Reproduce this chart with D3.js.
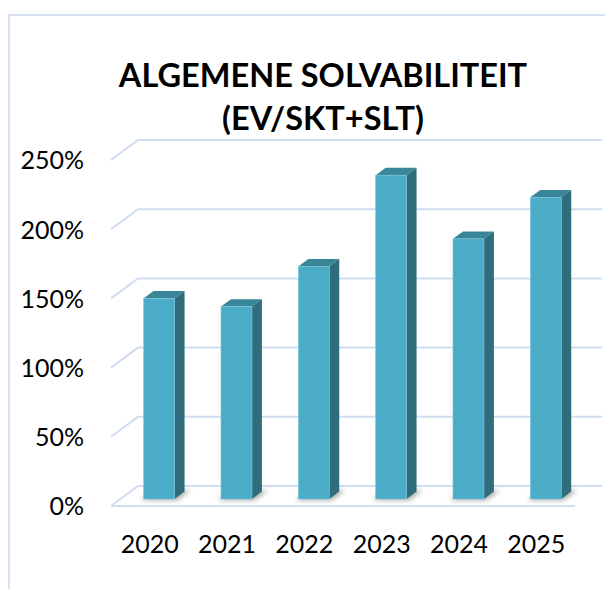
<!DOCTYPE html>
<html>
<head>
<meta charset="utf-8">
<script src="https://cdn.jsdelivr.net/npm/d3@7"></script>
<style>
  body { margin: 0; background: #fff; }
  svg text { font-family: Lato, "Open Sans", sans-serif; fill: #000; }
</style>
</head>
<body>
<div id="chart"></div>
<script>
// Chart data
const years = ["2020", "2021", "2022", "2023", "2024", "2025"];
const solvency = [145, 139, 168, 234, 188, 218];
const yTicks = [0, 50, 100, 150, 200, 250];
const titleLines = ["ALGEMENE SOLVABILITEIT", "(EV/SKT+SLT)"];

const width = 605;
const height = 589;

// Floor front edge and the depth vector of the 3D box
const floorLeft = 111, floorRight = 575, floorY = 506;
const depth = { x: 27, y: -20 };
const barFront = 0.35, barBack = 0.72;

const svg = d3.select("#chart")
    .append("svg")
    .attr("width", width)
    .attr("height", height);

// Soft shadow filter for bar bases
svg.append("defs").append("filter")
    .attr("id", "blur")
    .attr("x", "-50%").attr("y", "-50%")
    .attr("width", "200%").attr("height", "200%")
    .append("feGaussianBlur")
    .attr("stdDeviation", 2.5);

// Outer border (top and left visible)
svg.append("path")
    .attr("d", `M9,${height} L9,15 L${width},15`)
    .attr("fill", "none")
    .attr("stroke", "#d6e2f1")
    .attr("stroke-width", 2);

const x = d3.scaleBand()
    .domain(years)
    .range([floorLeft, floorRight]);

// value scale on the front plane of the box
const y = d3.scaleLinear()
    .domain([0, 250])
    .range([floorY, floorY - 346]);

// Gridlines: left wall diagonal + back wall line
const gridColor = "#d0ddf0";
yTicks.forEach(t => {
    const yf = y(t);
    svg.append("path")
        .attr("d", `M${floorLeft},${yf} L${floorLeft + depth.x},${yf + depth.y} L${floorRight + depth.x},${yf + depth.y}`)
        .attr("fill", "none")
        .attr("stroke", gridColor)
        .attr("stroke-width", 2);
});
// front edge of the floor
svg.append("line")
    .attr("x1", floorLeft).attr("y1", y(0))
    .attr("x2", floorRight).attr("y2", y(0))
    .attr("stroke", gridColor)
    .attr("stroke-width", 2);

// Y axis labels
svg.selectAll(".ylab")
    .data(yTicks)
    .join("text")
    .attr("class", "ylab")
    .attr("x", 84)
    .attr("y", d => y(d) + 3)
    .attr("text-anchor", "end")
    .attr("dominant-baseline", "middle")
    .style("font-size", "25px")
    .text(d => d + "%");

// X axis labels
svg.selectAll(".xlab")
    .data(years)
    .join("text")
    .attr("class", "xlab")
    .attr("x", d => x(d) + x.bandwidth() / 2)
    .attr("y", 553)
    .attr("text-anchor", "middle")
    .style("font-size", "25px")
    .text(d => d);

// Bars
const bw = x.bandwidth() * 0.4;
const dx = depth.x * (barBack - barFront);
const dy = depth.y * (barBack - barFront);

const bars = svg.selectAll(".bar")
    .data(years.map((yr, i) => ({ yr, v: solvency[i] })))
    .join("g")
    .attr("class", "bar")
    .attr("transform", d => {
        const cx = x(d.yr) + x.bandwidth() / 2 + depth.x * barFront;
        return `translate(${cx - bw / 2},${depth.y * barFront})`;
    });

// base shadow
bars.append("path")
    .attr("d", `M${-3},${y(0) + 1} L${bw + 2},${y(0) + 1} L${bw + dx + 6},${y(0) + dy - 1} L${dx},${y(0) + dy}Z`)
    .attr("fill", "#555")
    .attr("opacity", 0.55)
    .attr("filter", "url(#blur)");

// top face
bars.append("path")
    .attr("d", d => {
        const t = y(d.v);
        return `M0,${t} L${bw},${t} L${bw + dx},${t + dy} L${dx},${t + dy}Z`;
    })
    .attr("fill", "#3a8699");

// side face
bars.append("path")
    .attr("d", d => {
        const t = y(d.v), b = y(0);
        return `M${bw},${t} L${bw + dx},${t + dy} L${bw + dx},${b + dy} L${bw},${b}Z`;
    })
    .attr("fill", "#306d7c");

// front face
bars.append("rect")
    .attr("x", 0)
    .attr("y", d => y(d.v))
    .attr("width", bw)
    .attr("height", d => y(0) - y(d.v))
    .attr("fill", "#4aacc6")
    .attr("stroke", "#7cc6da")
    .attr("stroke-width", 0.6);

// Title
svg.selectAll(".title")
    .data(titleLines)
    .join("text")
    .attr("class", "title")
    .attr("x", 323)
    .attr("y", (d, i) => 87 + i * 43)
    .attr("text-anchor", "middle")
    .style("font-size", "32.5px")
    .style("font-weight", "bold")
    .text(d => d);
</script>
</body>
</html>
